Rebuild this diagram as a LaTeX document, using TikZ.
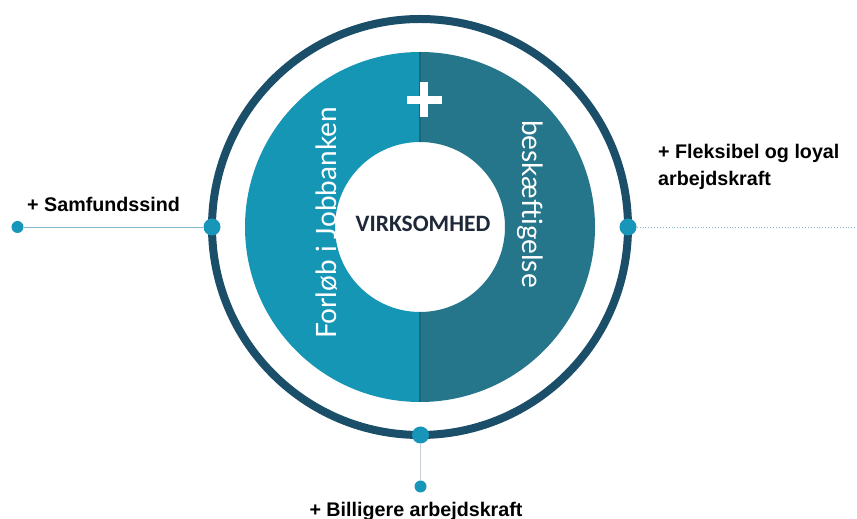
\documentclass[tikz,border=0pt]{standalone}
\usepackage{fontspec}
\setmainfont{Liberation Sans}
\newfontfamily\centerfont{Carlito}
\newfontfamily\ringfont{Lato}
\definecolor{ringc}{RGB}{27,78,104}
\definecolor{leftc}{RGB}{22,150,181}
\definecolor{rightc}{RGB}{37,117,139}
\definecolor{edgec}{RGB}{30,100,122}
\definecolor{dotc}{RGB}{24,150,186}
\definecolor{linec}{RGB}{130,184,204}
\definecolor{greyline}{RGB}{196,206,212}
\definecolor{darktext}{RGB}{30,40,56}
\tikzset{
  ringdot/.style={circle, fill=dotc, inner sep=0pt, minimum size=17pt},
  enddot/.style={circle, fill=dotc, inner sep=0pt, minimum size=12pt},
  label/.style={font=\bfseries\fontsize{19.7}{27}\selectfont, text=black, inner sep=0pt},
  halftext/.style={text=white, font=\ringfont\fontsize{28}{30}\selectfont, inner sep=0pt}
}
\begin{document}
\begin{tikzpicture}[x=1pt,y=1pt]
\useasboundingbox (0,0) rectangle (857,519);
\clip (0,0) rectangle (857,519);
\fill[white] (0,0) rectangle (857,519);
\coordinate (c) at (420,292);
% outer ring
\draw[ringc, line width=8pt] (c) circle[radius=208pt];
% two halves of the donut
\fill[leftc] (420,467) arc[start angle=90, end angle=270, radius=175pt]
  -- (420,207) arc[start angle=270, end angle=90, radius=85pt] -- cycle;
\fill[rightc] (420,467) arc[start angle=90, end angle=-90, radius=175pt]
  -- (420,207) arc[start angle=-90, end angle=90, radius=85pt] -- cycle;
\draw[edgec, line width=1.2pt] (420,467) -- (420,377) (420,207) -- (420,117);
% plus sign at the top
\fill[white] (406.5,415.25) rectangle ++(35,7.5);
\fill[white] (420.25,401.5) rectangle ++(7.5,35);
% texts in the donut
\node[halftext, rotate=90] (forlob) at (327,296) {Forløb i Jobbanken};
\node[halftext, rotate=-90] (besk) at (530,315) {beskæftigelse};
\node[font=\centerfont\bfseries\fontsize{23.5}{25}\selectfont, text=darktext] (center) at (423,295) {VIRKSOMHED};
% connectors
\node[enddot] (ldot) at (17.5,292) {};
\node[ringdot] (lring) at (212,292) {};
\coordinate (rend) at (857,292);
\node[ringdot] (rring) at (628,292) {};
\node[enddot] (bdot) at (420.5,32.5) {};
\node[ringdot] (bring) at (420.5,84) {};
\draw[linec, line width=0.9pt] (ldot) -- (lring);
\draw[linec, line width=0.9pt, dotted] (rring) -- (rend);
\draw[greyline, line width=1.2pt] (bring) -- (bdot);
% labels
\node[label, anchor=base west] (samf) at (27,307) {+ Samfundssind};
\node[label, anchor=base west, align=left] (fleks) at (658,333) {+ Fleksibel og loyal\\arbejdskraft};
\node[label, anchor=base] (bill) at (416,2) {+ Billigere arbejdskraft};
\end{tikzpicture}
\end{document}
